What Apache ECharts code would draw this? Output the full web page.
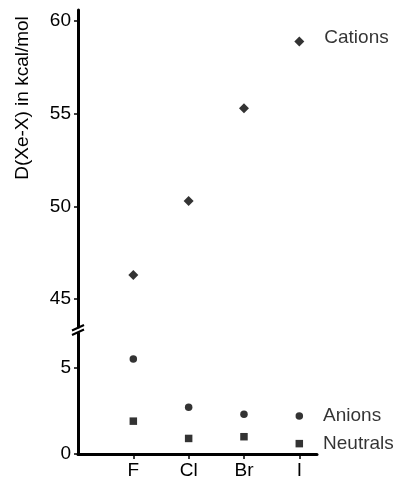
<!DOCTYPE html>
<html>
<head>
<meta charset="utf-8">
<script src="https://cdn.jsdelivr.net/npm/echarts@6/dist/echarts.min.js"></script>
<style>html,body{margin:0;padding:0;background:#fff;}#c{width:397px;height:480px;}</style>
</head>
<body>
<div id="c"></div>
<script>
const categories = ['F', 'Cl', 'Br', 'I'];
const cations = [46.3, 50.3, 55.3, 58.9];
const anions = [5.5, 2.7, 2.3, 2.2];
const neutrals = [1.9, 0.9, 1.0, 0.6];
const upperTicks = [45, 50, 55, 60];
const lowerTicks = [0, 5];
const yTitle = 'D(Xe-X) in kcal/mol';

const FONT = '"Liberation Sans", Arial, Helvetica, sans-serif';
const FS = 19;
const catPos = categories.map((c, i) => i + 1);
const toPts = arr => arr.map((v, i) => [catPos[i], v]);

const chart = echarts.init(document.getElementById('c'), null, {renderer: 'canvas'});
const black = '#000';
const yCommon = {
  type: 'value',
  axisLine: {show: true, lineStyle: {color: black, width: 3}},
  axisTick: {show: true, length: 4, lineStyle: {color: black, width: 1.5}},
  axisLabel: {color: black, fontFamily: FONT, fontSize: FS, margin: 7},
  splitLine: {show: false}
};
function lastLabel(offset) {
  return {
    show: true, position: 'right', distance: 20, offset: offset,
    color: black, fontFamily: FONT, fontSize: FS,
    formatter: p => p.dataIndex === categories.length - 1 ? p.seriesName : ''
  };
}
const option = {
  animation: false,
  backgroundColor: '#fff',
  grid: [
    {left: 78, top: 10, width: 239, height: 317},
    {left: 78, top: 333, width: 239, height: 122}
  ],
  xAxis: [
    {gridIndex: 0, type: 'value', min: 0, max: 4.32, show: false},
    {gridIndex: 1, type: 'value', min: 0, max: 4.32,
      axisLine: {show: true, lineStyle: {color: black, width: 3}},
      axisTick: {show: true, length: 5, customValues: catPos, lineStyle: {color: black, width: 1.5}},
      axisLabel: {color: black, fontFamily: FONT, fontSize: FS, margin: 7, customValues: catPos,
        formatter: v => categories[Math.round(v) - 1] || ''},
      splitLine: {show: false}
    }
  ],
  yAxis: [
    Object.assign({}, yCommon, {gridIndex: 0, min: 43.5, max: 60.6,
      axisTick: Object.assign({}, yCommon.axisTick, {customValues: upperTicks}),
      axisLabel: Object.assign({}, yCommon.axisLabel, {customValues: upperTicks})}),
    Object.assign({}, yCommon, {gridIndex: 1, min: 0, max: 7,
      axisTick: Object.assign({}, yCommon.axisTick, {customValues: lowerTicks}),
      axisLabel: Object.assign({}, yCommon.axisLabel, {customValues: lowerTicks})})
  ],
  series: [
    {name: 'Cations', type: 'scatter', xAxisIndex: 0, yAxisIndex: 0, data: toPts(cations),
      symbol: 'diamond', symbolSize: [10, 10], itemStyle: {color: black}, label: lastLabel([0, -4])},
    {name: 'Anions', type: 'scatter', xAxisIndex: 1, yAxisIndex: 1, data: toPts(anions),
      symbol: 'circle', symbolSize: 7.5, itemStyle: {color: black}, label: lastLabel([0, 0])},
    {name: 'Neutrals', type: 'scatter', xAxisIndex: 1, yAxisIndex: 1, data: toPts(neutrals),
      symbol: 'rect', symbolSize: 7.5, itemStyle: {color: black}, label: lastLabel([0, 0])}
  ]
};
chart.setOption(option);

// y-axis title and axis break marks between the two grids
const ax = chart.convertToPixel({xAxisIndex: 1}, 0);
const yTopEnd = chart.convertToPixel({yAxisIndex: 0}, 43.5);
const yBotStart = chart.convertToPixel({yAxisIndex: 1}, 7);
const mid = (yTopEnd + yBotStart) / 2;
chart.setOption({
  graphic: [
    {type: 'text', x: 23, y: 98, rotation: Math.PI / 2,
      style: {text: yTitle, fill: black, font: FS + 'px ' + FONT, textAlign: 'center', textVerticalAlign: 'middle'}},
    {type: 'line', shape: {x1: ax - 6, y1: mid + 0.5, x2: ax + 6, y2: mid - 5}, style: {stroke: black, lineWidth: 2}},
    {type: 'line', shape: {x1: ax - 6, y1: mid + 5, x2: ax + 6, y2: mid - 0.5}, style: {stroke: black, lineWidth: 2}}
  ]
});
</script>
</body>
</html>
